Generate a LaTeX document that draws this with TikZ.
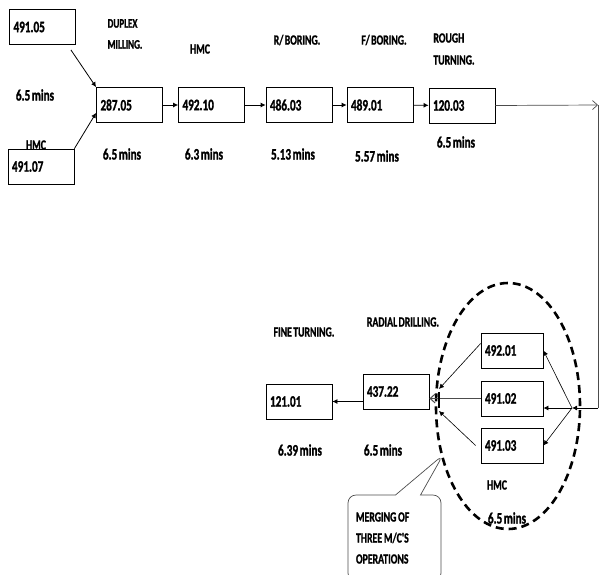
\documentclass[tikz,border=0pt]{standalone}
\usepackage{fontspec}
\newfontfamily\cond{Carlito}[FakeStretch=0.7,WordSpace=0.6,BoldFeatures={FakeBold=1.2}]
\usetikzlibrary{arrows.meta,shapes.geometric,shapes.callouts}

\begin{document}
\begin{tikzpicture}[x=1pt,y=-1pt,>=Latex,
  box/.style={draw,line width=0.8pt,minimum height=35pt,text width=58pt,
    inner xsep=4pt,align=left,font=\cond\bfseries\fontsize{16}{20}\selectfont},
  hbox/.style={box,text width=54pt},
  lbl/.style={inner sep=0pt,align=left,font=\cond\bfseries\fontsize{14}{22}\selectfont},
  val/.style={inner sep=0pt,font=\cond\bfseries\fontsize{16}{20}\selectfont},
  arrow/.style={->,line width=0.8pt,>={Latex[length=5pt,width=5pt]}},
  open/.style={->,line width=0.7pt,draw=black!70,>={Straight Barb[length=5pt,width=9pt]}},
  ring/.style={draw,ellipse,line width=2.6pt,dash pattern=on 8pt off 5pt,
    minimum width=144pt,minimum height=246pt,inner sep=0pt},
  note/.style={draw=black!70,line width=0.7pt,rectangle callout,rounded corners=8pt,
    minimum width=93pt,minimum height=86pt,callout pointer width=25pt,
    text width=77pt,align=left,execute at begin node={\spaceskip=1.8pt\relax},
    font=\cond\bfseries\fontsize{14}{21}\selectfont}]
  \useasboundingbox (0,0) rectangle (600,574);
  \node[box] (in1) at (42.5,27) {491.05};
  \node[box] (in2) at (41,166.5) {491.07};
  \node[box] (duplex) at (129.5,105) {287.05};
  \node[box] (hmca) at (211.5,105) {492.10};
  \node[box] (rbore) at (299,105) {486.03};
  \node[box] (fbore) at (380,105) {489.01};
  \node[box] (rough) at (462,105.5) {120.03};
  \node[box] (fine) at (299,401.5) {121.01};
  \node[box] (radial) at (396,391.5) {437.22};
  \node[ring] (hmcring) at (508,406) {};
  \node[hbox] (hmcx) at (512,350.5) {492.01};
  \node[hbox] (hmcy) at (512,398.5) {491.02};
  \node[hbox] (hmcz) at (512,445.5) {491.03};
  \node[lbl,font=\cond\bfseries\fontsize{13}{21}\selectfont] at (125,34) {DUPLEX\\MILLING.};
  \node[lbl] at (200,49) {HMC};
  \node[lbl] at (297,40) {R/ BORING.};
  \node[lbl] at (384,40) {F/ BORING.};
  \node[lbl] at (454,49) {ROUGH\\TURNING.};
  \node[val] at (35,95) {6.5 mins};
  \node[lbl] at (36,145) {HMC};
  \node[val] at (122,154) {6.5 mins};
  \node[val] at (204,154) {6.3 mins};
  \node[val] at (293,154) {5.13 mins};
  \node[val] at (377,156) {5.57 mins};
  \node[val] at (456,142) {6.5 mins};
  \node[lbl] at (304,332) {FINE TURNING.};
  \node[lbl] at (403,322) {RADIAL DRILLING.};
  \node[val] at (300,450) {6.39 mins};
  \node[val] at (383,450) {6.5 mins};
  \node[lbl] at (497,485) {HMC};
  \node[val] at (507,518) {6.5 mins};
  \coordinate (tedge) at (598,105);
  \coordinate (redge) at (598,408);
  \coordinate (split) at (572,408);
  \coordinate (mbar) at (439,400);
  \coordinate (mtip) at (443,455);
  \node[note,callout absolute pointer={(mtip)}] (merge) at (394.5,538)
    {MERGING OF\\THREE M/C'S\\OPERATIONS};
  \draw[arrow] ([xshift=-5pt,yshift=-5pt]in1.south east) -- (duplex.north west);
  \draw[arrow] (in2.north east) -- ([yshift=10pt]duplex.south west);
  \draw[arrow] (duplex) -- (hmca);
  \draw[arrow] (hmca) -- (rbore);
  \draw[arrow] (rbore) -- (fbore);
  \draw[arrow] (fbore) -- (rough);
  \draw[open] (rough.east) -- (tedge);
  \draw[line width=0.7pt,black!70] (tedge) -- (redge);
  \draw[arrow] (redge) -- (split);
  \draw[arrow,line width=0.6pt] (split) -- (hmcx.east);
  \draw[arrow] (split) -- (split -| hmcy.east);
  \draw[arrow,line width=0.6pt] (split) -- (hmcz.east);
  \draw[arrow,line width=0.6pt] ([yshift=7pt]hmcx.west) -- ([yshift=11pt]mbar);
  \draw[open,line width=1pt] (hmcy.west) -- (hmcy.west -| radial.east);
  \draw[arrow,line width=0.6pt] ([xshift=-5pt]hmcz.west) -- ([yshift=-11pt]mbar);
  \draw[line width=1.6pt] ([yshift=8pt]mbar) -- ([yshift=-8pt]mbar);
  \draw[arrow] (fine.east -| radial.west) -- (fine.east);
\end{tikzpicture}
\end{document}
